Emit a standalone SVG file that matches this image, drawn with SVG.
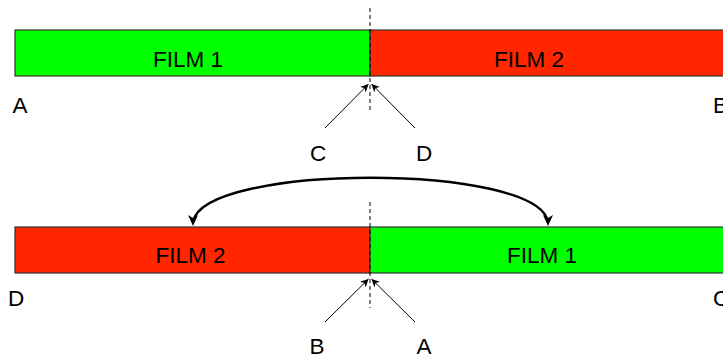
<svg xmlns="http://www.w3.org/2000/svg" width="723" height="356" viewBox="0 0 723 356">
<style>
text{font-family:"Liberation Sans",Arial,sans-serif;font-size:22.5px;fill:#000;text-anchor:middle}
.g{fill:#00ff00;stroke:#333;stroke-width:1.2}
.r{fill:#ff2600;stroke:#333;stroke-width:1.2}
.dash{stroke:#000;stroke-width:1;stroke-dasharray:4,3;fill:none}
.ln{stroke:#000;stroke-width:1;fill:none}
.cv{stroke:#000;stroke-width:2.5;fill:none}
</style>
<defs>
<marker id="ah" viewBox="0 0 10 10" refX="10" refY="5" markerWidth="8" markerHeight="8" markerUnits="userSpaceOnUse" orient="auto">
<path d="M0,0 L10,5 L0,10 L3,5 z" fill="#000"/>
</marker>
</defs>
<g id="top-film1"><rect class="g" x="15" y="30" width="355" height="46"/><text x="188" y="67">FILM 1</text></g>
<g id="top-film2"><rect class="r" x="370" y="30" width="360" height="46"/><text x="529" y="67">FILM 2</text></g>
<g id="bot-film2"><rect class="r" x="15" y="227" width="355" height="46"/><text x="190.5" y="263">FILM 2</text></g>
<g id="bot-film1"><rect class="g" x="370" y="227" width="360" height="46"/><text x="542" y="263">FILM 1</text></g>
<g id="labels">
<text x="20" y="113">A</text>
<text x="713" y="113" style="text-anchor:start">B</text>
<text x="318" y="161">C</text>
<text x="424" y="161">D</text>
<text x="16" y="306">D</text>
<text x="713" y="306" style="text-anchor:start">C</text>
<text x="317" y="354">B</text>
<text x="424" y="354">A</text>
</g>
<g id="connectors">
<line class="dash" x1="370" y1="8" x2="370" y2="113"/>
<line class="dash" x1="370" y1="202" x2="370" y2="308"/>
<line class="ln" x1="325" y1="128" x2="368.5" y2="84" marker-end="url(#ah)"/>
<line class="ln" x1="415" y1="128" x2="371.5" y2="84" marker-end="url(#ah)"/>
<line class="ln" x1="325" y1="322" x2="368.5" y2="279" marker-end="url(#ah)"/>
<line class="ln" x1="415" y1="322" x2="371.5" y2="279" marker-end="url(#ah)"/>
<path class="cv" d="M193,222 C203,163 538,163 548,222"/>
<path d="M193,226 L188,215 L193,218 L198,215 z" fill="#000"/>
<path d="M548,226 L543,215 L548,218 L553,215 z" fill="#000"/>
</g>
</svg>
